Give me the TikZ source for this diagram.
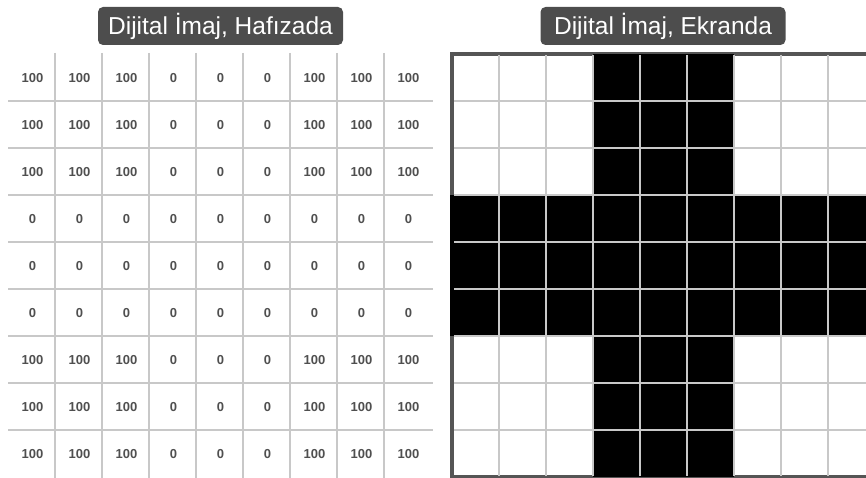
\documentclass[tikz,border=0pt]{standalone}
\usepackage{fontspec}
\setmainfont{Liberation Sans}
\definecolor{titlegray}{HTML}{4D4D4D}
\definecolor{numgray}{HTML}{4F4F4F}
\definecolor{linegray}{HTML}{C8C8C8}
\definecolor{bordergray}{HTML}{555555}
\begin{document}
\begin{tikzpicture}[x=1pt,y=-1pt,
  titlebox/.style={fill=titlegray, rounded corners=5pt, text=white,
    font=\fontsize{24.5}{28}\selectfont, minimum width=245pt, minimum height=38pt, inner sep=0pt},
  numtext/.style={text=numgray, font=\bfseries\fontsize{13}{15}\selectfont, inner sep=0pt},
  gridline/.style={draw=linegray, line width=1.4pt},
  pixel/.style={fill=black, draw=none},
  frame/.style={draw=bordergray, line width=4pt}]
\useasboundingbox (0,0) rectangle (866,478);
% titles
\node[titlebox] (t1) at (220.5,26) {Dijital İmaj, Hafızada};
\node[titlebox] (t2) at (663,26) {Dijital İmaj, Ekranda};
% left table grid
\foreach \k in {0,...,7} {
  \draw[gridline] (55+47*\k,53) -- (55+47*\k,478);
  \draw[gridline] (8,101+47*\k) -- (433,101+47*\k);
}
% left table numbers
\foreach \r in {0,...,8} {
  \foreach \c in {0,...,8} {
    \pgfmathtruncatemacro\v{((\r>2 && \r<6) || (\c>2 && \c<6)) ? 0 : 100}
    \node[numtext] (n-\r-\c) at (32.5+47*\c,78+47*\r) {\v};
  }
}
% right grid frame
\draw[frame] (452,54) rectangle (875,477);
% black pixels
\foreach \r in {0,...,8} {
  \foreach \c in {0,...,8} {
    \pgfmathtruncatemacro\b{((\r>2 && \r<6) || (\c>2 && \c<6)) ? 1 : 0}
    \ifnum\b=1
      \fill[pixel] (452+47*\c,54+47*\r) rectangle +(47,47);
    \fi
  }
}
\fill[pixel] (450,195) rectangle (452,336);
% right grid lines
\foreach \k in {0,...,7} {
  \draw[gridline] (499+47*\k,55) -- (499+47*\k,476);
  \draw[gridline] (454,101+47*\k) -- (866,101+47*\k);
}
\end{tikzpicture}
\end{document}
